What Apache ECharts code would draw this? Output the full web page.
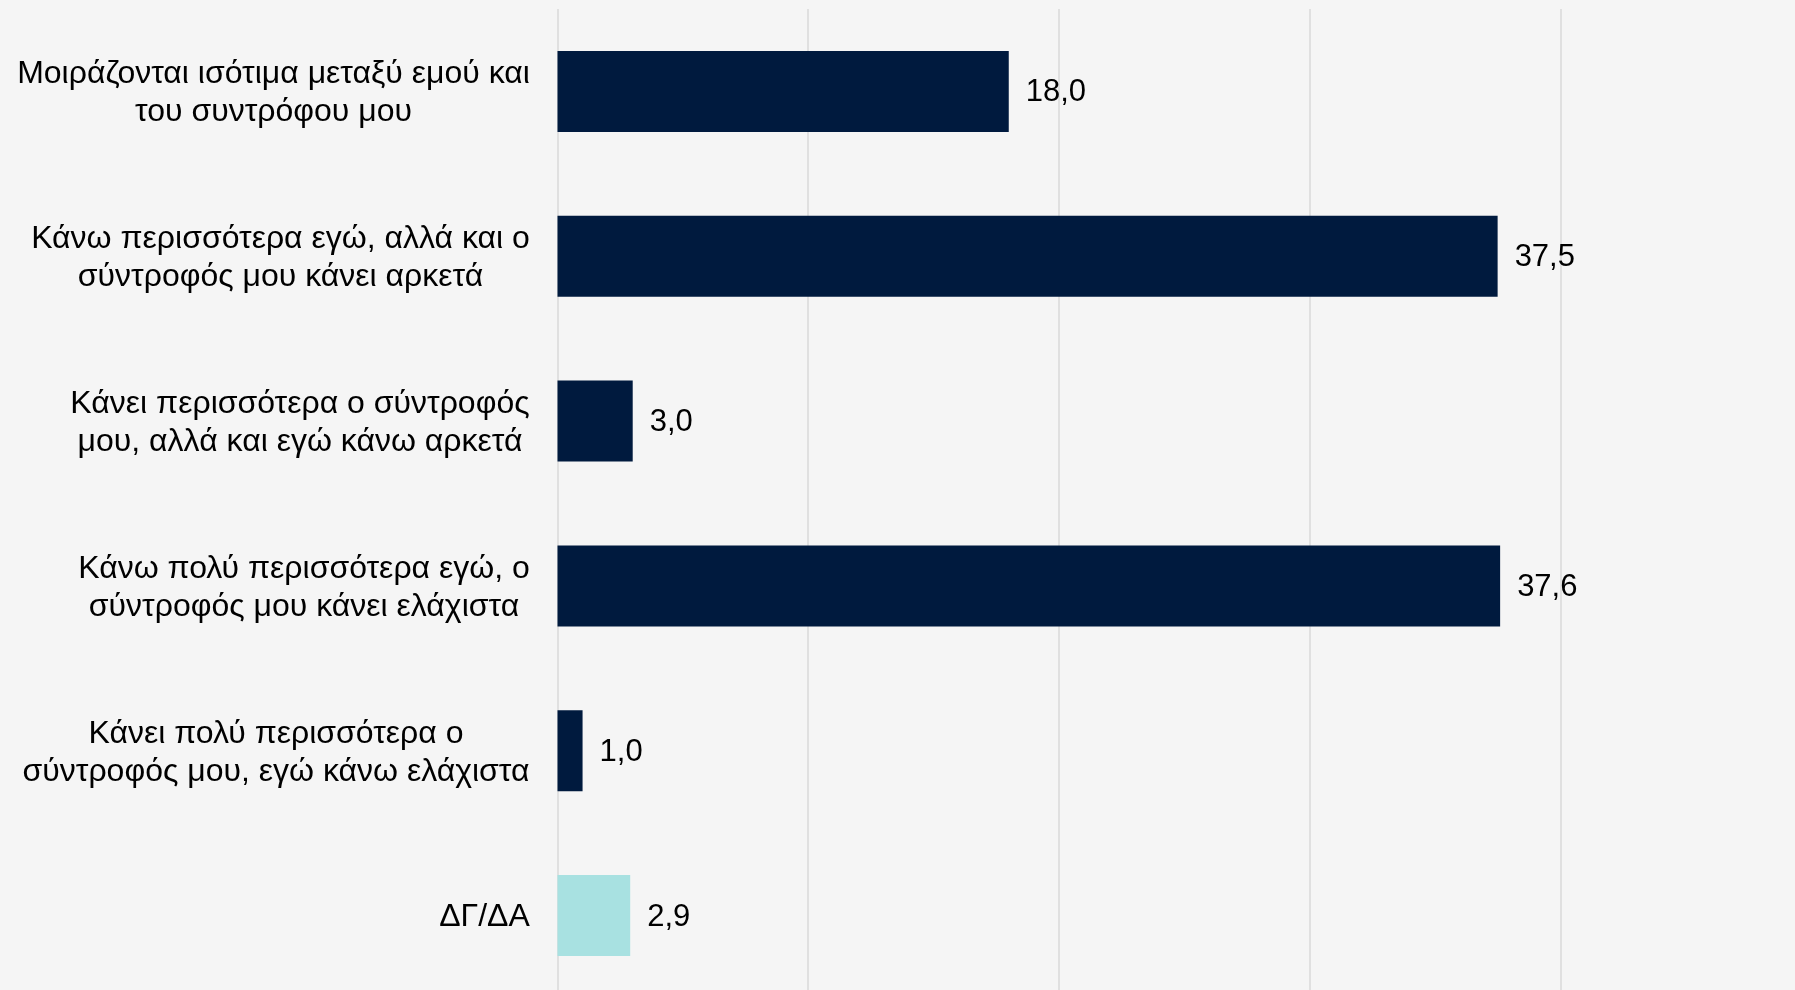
<!DOCTYPE html>
<html>
<head>
<meta charset="utf-8">
<script src="https://cdn.jsdelivr.net/npm/echarts@6/dist/echarts.min.js"></script>
<style>
html,body{margin:0;padding:0;background:#F5F5F5;}
#chart{width:1795px;height:990px;}
</style>
</head>
<body>
<div id="chart"></div>
<script>
const categories = [
  'Μοιράζονται ισότιμα μεταξύ εμού και\nτου συντρόφου μου',
  'Κάνω περισσότερα εγώ, αλλά και ο\nσύντροφός μου κάνει αρκετά',
  'Κάνει περισσότερα ο σύντροφός\nμου, αλλά και εγώ κάνω αρκετά',
  'Κάνω πολύ περισσότερα εγώ, ο\nσύντροφός μου κάνει ελάχιστα',
  'Κάνει πολύ περισσότερα ο\nσύντροφός μου, εγώ κάνω ελάχιστα',
  'ΔΓ/ΔΑ'
];
const values = [18.0, 37.5, 3.0, 37.6, 1.0, 2.9];
const barColors = ['#001A3E', '#001A3E', '#001A3E', '#001A3E', '#001A3E', '#A8E1E1'];
const xTicks = [0, 10, 20, 30, 40, 50];

const FONT = '"Liberation Sans", Arial, sans-serif';
const CAT_SIZE = 32;
const VAL_SIZE = 31;

// measure widths so each wrapped label's lines are centred within a right-aligned block
const ctx = document.createElement('canvas').getContext('2d');
ctx.font = CAT_SIZE + 'px ' + FONT;
const rich = {};
categories.forEach((c, i) => {
  const w = Math.max(...c.split('\n').map(l => ctx.measureText(l).width));
  rich['l' + i] = {width: Math.ceil(w) + 1, align: 'center', fontSize: CAT_SIZE, fontFamily: FONT, color: '#000', lineHeight: 38};
});

const chart = echarts.init(document.getElementById('chart'), null, {renderer: 'canvas'});
chart.setOption({
  backgroundColor: '#F5F5F5',
  animation: false,
  grid: {left: 557.5, right: -16, top: 9, bottom: -8, containLabel: false, outerBoundsMode: 'none'},
  xAxis: {
    type: 'value', min: xTicks[0], max: xTicks[xTicks.length - 1], interval: 10,
    axisLabel: {show: false}, axisLine: {show: false}, axisTick: {show: false},
    splitLine: {show: true, lineStyle: {color: '#D9D9D9', width: 1.5}}
  },
  yAxis: {
    type: 'category', data: categories, inverse: true,
    axisLine: {show: false}, axisTick: {show: false},
    axisLabel: {
      margin: 27, align: 'right', padding: [4, 0, 0, 0],
      formatter: (v, idx) => v.split('\n').map(l => '{l' + idx + '|' + l + '}').join('\n'),
      rich: rich
    }
  },
  series: [{
    type: 'bar',
    data: values.map((v, i) => ({value: v, itemStyle: {color: barColors[i]}})),
    barWidth: 81,
    label: {
      show: true, position: 'right', distance: 17, offset: [0, 1.5],
      fontSize: VAL_SIZE, fontFamily: FONT, color: '#000',
      formatter: p => p.value.toFixed(1).replace('.', ',')
    }
  }]
});
</script>
</body>
</html>
